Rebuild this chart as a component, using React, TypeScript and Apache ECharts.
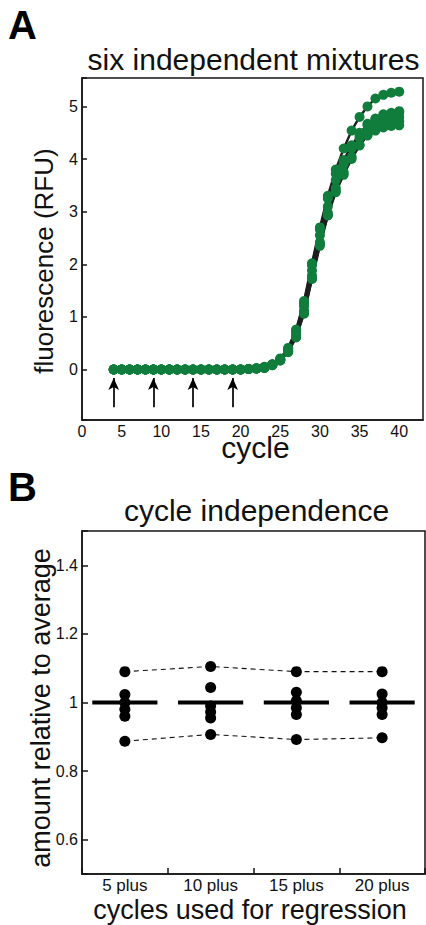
import React, { useEffect, useRef } from 'react';
import * as echarts from 'echarts';

// ---------- Panel A data ----------
const cycles = [4, 5, 6, 7, 8, 9, 10, 11, 12, 13, 14, 15, 16, 17, 18, 19, 20, 21, 22, 23, 24, 25, 26, 27, 28, 29, 30, 31, 32, 33, 34, 35, 36, 37, 38, 39, 40];
const mixture1 = [0, 0, 0, 0, 0, 0, 0, 0, 0, 0, 0, 0, 0, 0, 0, 0, 0, 0.01, 0.02, 0.05, 0.10, 0.21, 0.41, 0.76, 1.30, 2.02, 2.70, 3.30, 3.80, 4.20, 4.54, 4.80, 5.00, 5.15, 5.22, 5.26, 5.28];
const mixture2 = [0, 0, 0, 0, 0, 0, 0, 0, 0, 0, 0, 0, 0, 0, 0, 0, 0, 0.01, 0.02, 0.04, 0.10, 0.20, 0.40, 0.74, 1.26, 1.98, 2.66, 3.25, 3.72, 3.98, 4.26, 4.45, 4.67, 4.77, 4.85, 4.88, 4.91];
const mixture3 = [0, 0, 0, 0, 0, 0, 0, 0, 0, 0, 0, 0, 0, 0, 0, 0, 0, 0.01, 0.02, 0.04, 0.09, 0.19, 0.38, 0.70, 1.20, 1.88, 2.55, 3.10, 3.60, 3.95, 4.23, 4.50, 4.64, 4.75, 4.82, 4.86, 4.88];
const mixture4 = [0, 0, 0, 0, 0, 0, 0, 0, 0, 0, 0, 0, 0, 0, 0, 0, 0, 0.01, 0.02, 0.04, 0.09, 0.18, 0.36, 0.66, 1.12, 1.78, 2.42, 2.98, 3.45, 3.90, 4.20, 4.40, 4.55, 4.66, 4.73, 4.78, 4.80];
const mixture5 = [0, 0, 0, 0, 0, 0, 0, 0, 0, 0, 0, 0, 0, 0, 0, 0, 0, 0.01, 0.02, 0.03, 0.08, 0.17, 0.34, 0.62, 1.08, 1.73, 2.38, 2.93, 3.40, 3.75, 4.04, 4.26, 4.45, 4.57, 4.65, 4.70, 4.72];
const mixture6 = [0, 0, 0, 0, 0, 0, 0, 0, 0, 0, 0, 0, 0, 0, 0, 0, 0, 0.01, 0.02, 0.03, 0.08, 0.17, 0.33, 0.61, 1.06, 1.72, 2.35, 2.93, 3.37, 3.70, 4.00, 4.26, 4.45, 4.54, 4.60, 4.63, 4.64];
const mixturesA = [mixture1, mixture2, mixture3, mixture4, mixture5, mixture6];
const arrowCycles = [4, 9, 14, 19];
const arrowBottom = -0.72;
const arrowTip = -0.16;
const xTicksA = [0, 5, 10, 15, 20, 25, 30, 35, 40];

// ---------- Panel B data ----------
const categoriesB = ['5 plus', '10 plus', '15 plus', '20 plus'];
const relA = [1.09, 1.105, 1.09, 1.09];
const relB = [1.023, 1.044, 1.03, 1.025];
const relC = [1.0, 0.99, 1.005, 1.0];
const relD = [0.98, 0.972, 0.985, 0.985];
const relE = [0.96, 0.955, 0.965, 0.965];
const relF = [0.887, 0.907, 0.892, 0.897];
const relMixtures = [relA, relB, relC, relD, relE, relF];
const connected = [relA, relF];
const meansB = [1, 1, 1, 1];
const yLabelsB = [0.6, 0.8, 1, 1.2, 1.4];

const FONT = '"Liberation Sans", Arial, Helvetica, sans-serif';
const GREEN = '#117d3d';
const INK = '#151515';

export default function App() {
  const ref = useRef<HTMLDivElement>(null);

  useEffect(() => {
    if (!ref.current) return;
    const chart = echarts.init(ref.current, undefined, { renderer: 'svg' });

    const lineSeriesA = mixturesA.map((m, i) => ({
      type: 'line',
      name: 'mixture ' + (i + 1),
      xAxisIndex: 0,
      yAxisIndex: 0,
      data: cycles.map((c, j) => [c, m[j]]),
      showSymbol: false,
      symbol: 'none',
      lineStyle: { color: '#1e1e1e', width: 2.4 },
      z: 2,
      silent: true,
    }));
    const dotSeriesA = mixturesA.map((m, i) => ({
      type: 'scatter',
      name: 'mixture ' + (i + 1) + ' points',
      xAxisIndex: 0,
      yAxisIndex: 0,
      data: cycles.map((c, j) => [c, m[j]]),
      symbol: 'circle',
      symbolSize: 10,
      itemStyle: { color: GREEN, opacity: 1 },
      z: 3,
      silent: true,
    }));

    const arrowSeries = {
      type: 'line',
      xAxisIndex: 0,
      yAxisIndex: 0,
      data: [],
      silent: true,
      markLine: {
        silent: true,
        animation: false,
        symbol: ['none', 'arrow'],
        symbolSize: [8, 12],
        label: { show: false },
        lineStyle: { color: '#000', width: 1.7, type: 'solid' },
        emphasis: { disabled: true },
        data: arrowCycles.map((c) => [
          { coord: [c, arrowBottom] },
          { coord: [c, arrowTip] },
        ]),
      },
    };

    const dashedB = connected.map((m) => ({
      type: 'line',
      xAxisIndex: 1,
      yAxisIndex: 1,
      data: m,
      symbol: 'none',
      lineStyle: { color: '#111', width: 1.1, type: [5, 4] },
      z: 2,
      silent: true,
    }));
    const dotsB = relMixtures.map((m) => ({
      type: 'scatter',
      xAxisIndex: 1,
      yAxisIndex: 1,
      data: m,
      symbol: 'circle',
      symbolSize: 11,
      itemStyle: { color: '#000', opacity: 1 },
      z: 4,
      silent: true,
    }));
    const meanBars = {
      type: 'custom',
      xAxisIndex: 1,
      yAxisIndex: 1,
      data: meansB.map((v, i) => [i, v]),
      silent: true,
      z: 3,
      renderItem: (params: any, api: any) => {
        const c = api.coord([api.value(0), api.value(1)]);
        const w = api.size([1, 0])[0] * 0.38;
        return {
          type: 'line',
          shape: { x1: c[0] - w, y1: c[1], x2: c[0] + w, y2: c[1] },
          style: { stroke: '#000', lineWidth: 4.2 },
        };
      },
    };

    const axisLineStyle = { color: INK, width: 1.5 };

    const option: any = {
      animation: false,
      backgroundColor: '#fff',
      grid: [
        { left: 82, top: 78, width: 343, height: 342, show: true, borderColor: INK, borderWidth: 1.5, containLabel: false },
        { left: 82, top: 531, width: 343, height: 343, show: true, borderColor: INK, borderWidth: 1.5, containLabel: false },
      ],
      xAxis: [
        {
          type: 'value',
          gridIndex: 0,
          min: 0,
          max: 43,
          interval: 5,
          axisLine: { show: true, onZero: false, lineStyle: axisLineStyle },
          axisTick: { show: false },
          splitLine: { show: false },
          axisLabel: {
            fontSize: 16,
            color: '#111',
            margin: 3,
            fontFamily: FONT,
            formatter: (v: number) => (xTicksA.indexOf(v) >= 0 ? String(v) : ''),
          },
        },
        {
          type: 'category',
          gridIndex: 1,
          data: categoriesB,
          boundaryGap: true,
          axisLine: { show: true, onZero: false, lineStyle: axisLineStyle },
          axisTick: { show: true, inside: true, length: 6, alignWithLabel: false, lineStyle: { color: INK, width: 1.5 } },
          splitLine: { show: false },
          axisLabel: { fontSize: 17, color: '#111', margin: 3, fontFamily: FONT },
        },
      ],
      yAxis: [
        {
          type: 'value',
          gridIndex: 0,
          min: -0.96,
          max: 5.54,
          splitNumber: 6,
          minInterval: 1,
          maxInterval: 1,
          axisLine: { show: true, onZero: false, lineStyle: axisLineStyle },
          axisTick: { show: true, inside: true, length: 5, lineStyle: { color: INK, width: 1.5 } },
          splitLine: { show: false },
          axisLabel: {
            fontSize: 16,
            color: '#111',
            margin: 4,
            fontFamily: FONT,
            formatter: (v: number) => (Math.abs(v - Math.round(v)) < 1e-6 && v >= 0 && v <= 5 ? String(Math.round(v)) : ''),
          },
        },
        {
          type: 'value',
          gridIndex: 1,
          min: 0.5,
          max: 1.5,
          splitNumber: 5,
          axisLine: { show: true, onZero: false, lineStyle: axisLineStyle },
          axisTick: { show: true, inside: true, length: 6, lineStyle: { color: INK, width: 1.5 } },
          splitLine: { show: false },
          axisLabel: {
            fontSize: 16,
            color: '#111',
            margin: 4,
            fontFamily: FONT,
            formatter: (v: number) => {
              const r = Math.round(v * 10) / 10;
              return yLabelsB.indexOf(r) >= 0 && Math.abs(v - r) < 1e-6 ? String(r) : '';
            },
          },
        },
      ],
      series: [...lineSeriesA, ...dotSeriesA, arrowSeries, ...dashedB, meanBars, ...dotsB],
      graphic: [
        { type: 'text', x: 8, y: 25, style: { text: 'A', font: 'bold 40px ' + FONT, fill: '#000', textVerticalAlign: 'middle', textAlign: 'left' } },
        { type: 'text', x: 8, y: 487, style: { text: 'B', font: 'bold 40px ' + FONT, fill: '#000', textVerticalAlign: 'middle', textAlign: 'left' } },
        { type: 'text', x: 253.5, y: 59.5, style: { text: 'six independent mixtures', font: '30px ' + FONT, fill: '#111', textAlign: 'center', textVerticalAlign: 'middle' } },
        { type: 'text', x: 256.5, y: 510.6, style: { text: 'cycle independence', font: '30px ' + FONT, fill: '#111', textAlign: 'center', textVerticalAlign: 'middle' } },
        { type: 'text', x: 255.5, y: 447.5, style: { text: 'cycle', font: '30px ' + FONT, fill: '#111', textAlign: 'center', textVerticalAlign: 'middle' } },
        { type: 'text', x: 250, y: 909.5, style: { text: 'cycles used for regression', font: '27px ' + FONT, fill: '#111', textAlign: 'center', textVerticalAlign: 'middle' } },
        { type: 'text', x: 44, y: 261, rotation: Math.PI / 2, style: { text: 'fluorescence (RFU)', font: '26px ' + FONT, fill: '#111', textAlign: 'center', textVerticalAlign: 'middle' } },
        { type: 'text', x: 41, y: 708, rotation: Math.PI / 2, style: { text: 'amount relative to average', font: '27px ' + FONT, fill: '#111', textAlign: 'center', textVerticalAlign: 'middle' } },
      ],
    };

    chart.setOption(option);
    return () => chart.dispose();
  }, []);

  return (
    <div
      ref={ref}
      style={{ position: 'absolute', left: 0, top: 0, width: 426, height: 925, background: '#fff' }}
    />
  );
}
